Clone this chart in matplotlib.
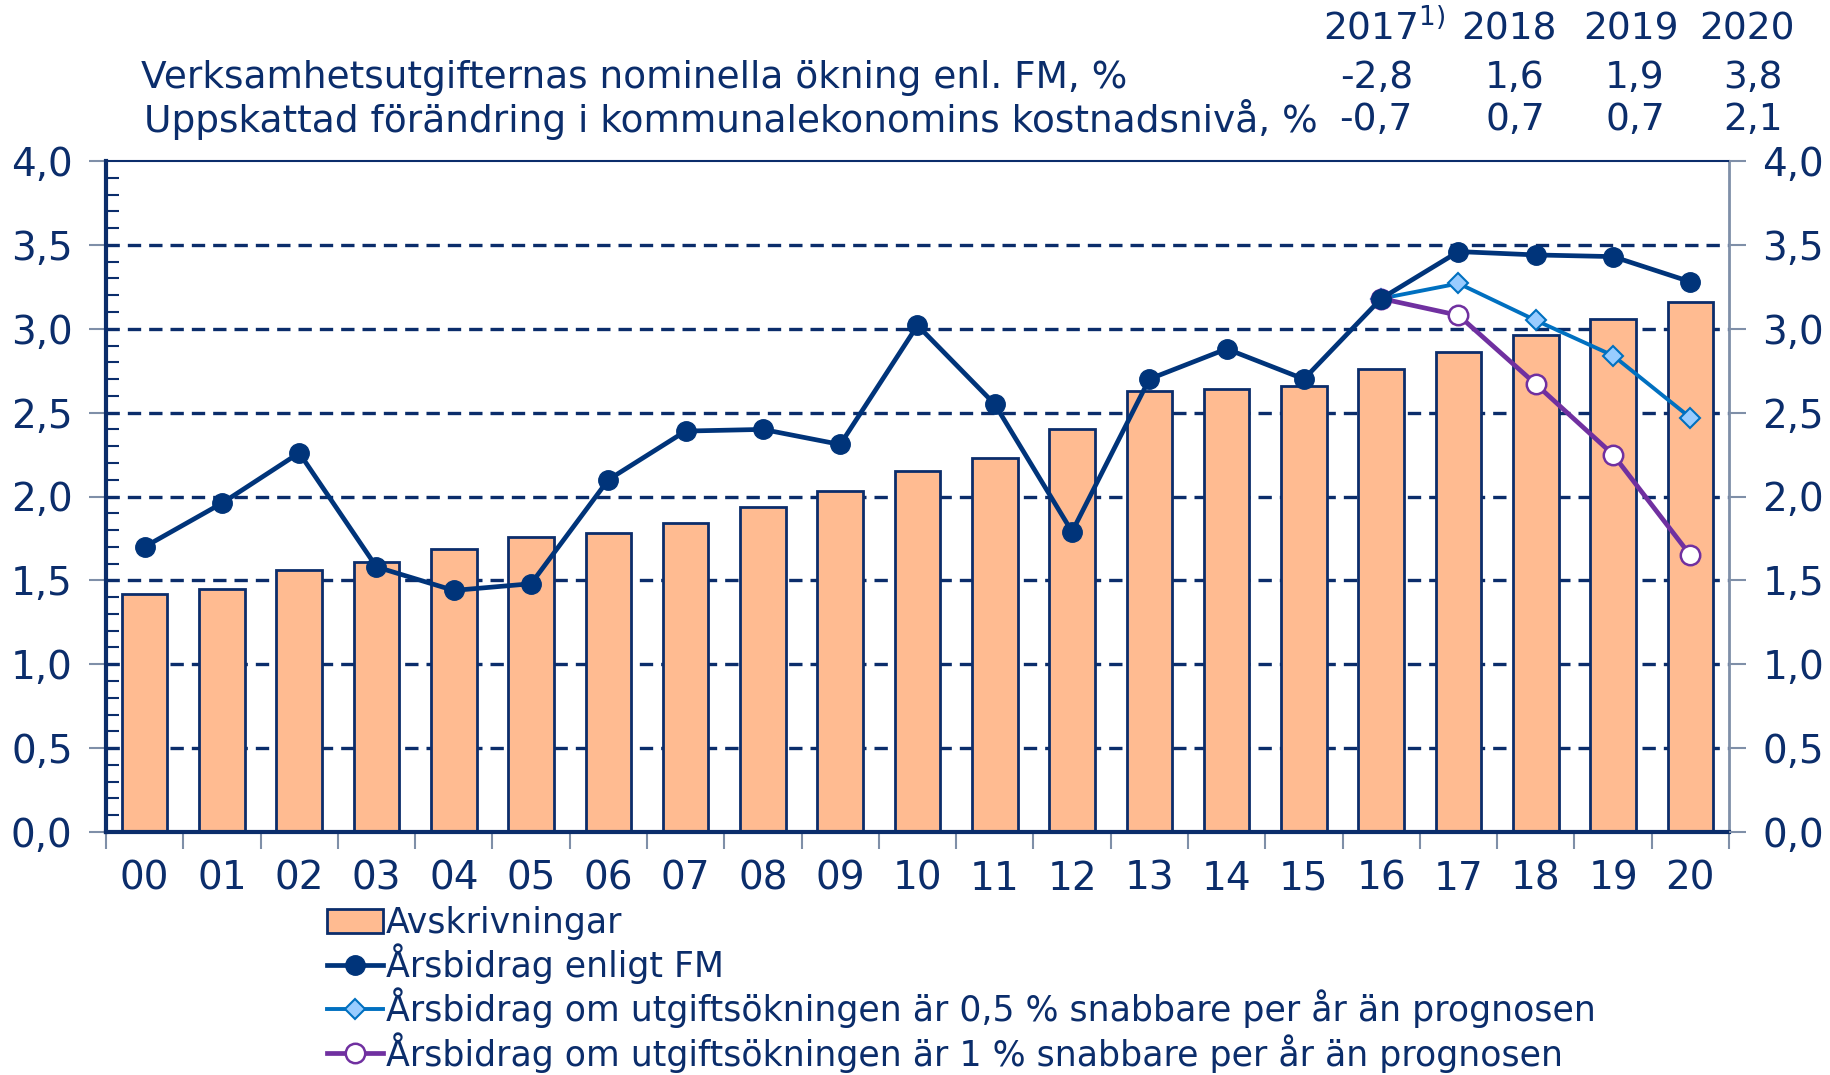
import numpy as np
import matplotlib.pyplot as plt
from matplotlib.ticker import MultipleLocator, FixedLocator

# --- Data ---
years = ['00', '01', '02', '03', '04', '05', '06', '07', '08', '09', '10',
         '11', '12', '13', '14', '15', '16', '17', '18', '19', '20']
avskrivningar = [1.42, 1.45, 1.56, 1.61, 1.69, 1.76, 1.78, 1.84, 1.94, 2.03, 2.15,
                 2.23, 2.40, 2.63, 2.64, 2.66, 2.76, 2.86, 2.96, 3.06, 3.16]
arsbidrag_fm = [1.70, 1.96, 2.26, 1.58, 1.44, 1.48, 2.10, 2.39, 2.40, 2.31, 3.02,
                2.55, 1.79, 2.70, 2.88, 2.70, 3.18, 3.46, 3.44, 3.43, 3.28]
scen_years = ['16', '17', '18', '19', '20']
arsbidrag_05 = [3.18, 3.27, 3.05, 2.84, 2.47]
arsbidrag_1 = [3.18, 3.08, 2.67, 2.25, 1.65]

head_years = ['2017', '2018', '2019', '2020']
row1_label = 'Verksamhetsutgifternas nominella ökning enl. FM, %'
row1_vals = ['-2,8', '1,6', '1,9', '3,8']
row2_label = 'Uppskattad förändring i kommunalekonomins kostnadsnivå, %'
row2_vals = ['-0,7', '0,7', '0,7', '2,1']

# --- Style ---
navy = '#0b2d6b'
line_navy = '#00347a'
light_blue = '#0070c0'
purple = '#7030a0'
bar_fill = '#ffbb91'
tick_grey = '#7f8fa8'
fs_tick = 28
fs_head = 27
fs_leg = 25

W, H = 1831, 1075
fig = plt.figure(figsize=(W / 100, H / 100), dpi=100)
ax = fig.add_axes([106 / W, 1 - 832 / H, (1729 - 106) / W, (832 - 161) / H])

x = np.arange(len(years))
xs = np.array([years.index(y) for y in scen_years])

ax.bar(x, avskrivningar, width=0.59, color=bar_fill, edgecolor=navy, linewidth=2.0,
       zorder=2, label='Avskrivningar')
ax.plot(x, arsbidrag_fm, color=line_navy, lw=3.4, marker='o', ms=14,
        mfc=line_navy, mec=line_navy, zorder=5, label='Årsbidrag enligt FM')
ax.plot(xs, arsbidrag_05, color=light_blue, lw=2.8, marker='D', ms=10,
        mfc='#99ccff', mec=light_blue, mew=1.5, zorder=4,
        label='Årsbidrag om utgiftsökningen är 0,5 % snabbare per år än prognosen')
ax.plot(xs, arsbidrag_1, color=purple, lw=3.4, marker='o', ms=14,
        mfc='white', mec=purple, mew=1.8, zorder=4,
        label='Årsbidrag om utgiftsökningen är 1 % snabbare per år än prognosen')

ax.set_xlim(-0.5, len(years) - 0.5)
ax.set_ylim(0, 4)

# dashed gridlines behind bars
for g in np.arange(0.5, 4.0, 0.5):
    ax.axhline(g, color=navy, lw=2.4, ls=(0, (4.0, 2.4)), zorder=1)

# y axis
ax.yaxis.set_major_locator(MultipleLocator(0.5))
ax.yaxis.set_minor_locator(MultipleLocator(0.1))
ax.set_yticklabels([f'{v:.1f}'.replace('.', ',') for v in ax.get_yticks()])
ax.tick_params(axis='y', which='major', direction='out', length=12, width=1.5,
               color=tick_grey, labelsize=fs_tick, labelcolor=navy, pad=12)
ax.tick_params(axis='y', which='minor', direction='in', length=9, width=1.5, color=navy)

# x axis: labels at centres, ticks at boundaries
ax.set_xticks(x)
ax.set_xticklabels(years)
ax.xaxis.set_minor_locator(FixedLocator(np.arange(-0.5, len(years), 1.0)))
ax.tick_params(axis='x', which='major', length=0, labelsize=fs_tick, labelcolor=navy, pad=20)
ax.tick_params(axis='x', which='minor', direction='out', length=12, width=1.5, color=tick_grey)

for s in ['left', 'bottom']:
    ax.spines[s].set_color(navy)
    ax.spines[s].set_linewidth(3.0)
ax.spines['top'].set_color(navy)
ax.spines['top'].set_linewidth(1.5)
ax.spines['right'].set_color(tick_grey)
ax.spines['right'].set_linewidth(2.0)

# right axis labels
ax2 = ax.twinx()
ax2.set_ylim(0, 4)
ax2.yaxis.set_major_locator(MultipleLocator(0.5))
ax2.set_yticklabels([f'{v:.1f}'.replace('.', ',') for v in ax2.get_yticks()])
ax2.tick_params(axis='y', direction='out', length=12, width=1.5, color=tick_grey,
                labelsize=fs_tick, labelcolor=navy, pad=12)
for s in ax2.spines.values():
    s.set_visible(False)

# header table
def fx(px):
    return px / W

def fy(py):
    return 1 - py / H

fig.text(fx(1323), fy(29), head_years[0] + r'$^{1)}$', fontsize=fs_head, color=navy,
         ha='left', va='center')
for yr, cx in zip(head_years[1:], [1509, 1631, 1747]):
    fig.text(fx(cx), fy(29), yr, fontsize=fs_head, color=navy, ha='center', va='center')

fig.text(fx(141), fy(78), row1_label, fontsize=fs_head, color=navy, ha='left', va='center')
fig.text(fx(144), fy(120), row2_label, fontsize=fs_head, color=navy, ha='left', va='center')
for rx, v1, v2 in zip([1413, 1545, 1665, 1783], row1_vals, row2_vals):
    fig.text(fx(rx), fy(78), v1, fontsize=fs_head, color=navy, ha='right', va='center')
    fig.text(fx(rx), fy(120), v2, fontsize=fs_head, color=navy, ha='right', va='center')

# legend
h, l = ax.get_legend_handles_labels()
order = [3, 0, 1, 2]
leg = fig.legend([h[i] for i in order], [l[i] for i in order],
                 loc='upper left', bbox_to_anchor=(fx(327), fy(906)),
                 frameon=False, fontsize=fs_leg, labelspacing=0.1,
                 handlelength=1.6, handletextpad=0.1, borderpad=0, borderaxespad=0)
for t in leg.get_texts():
    t.set_color(navy)

fig.savefig('out.png', dpi=100)
